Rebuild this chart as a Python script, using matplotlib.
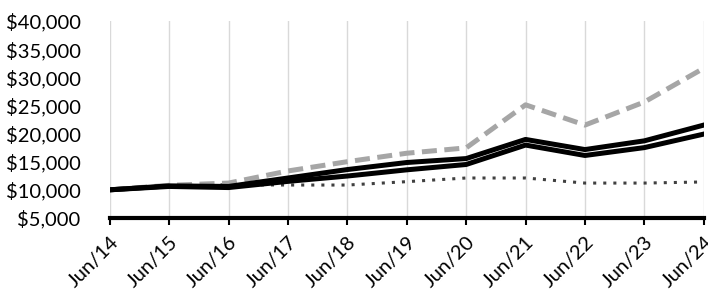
import matplotlib.pyplot as plt
from matplotlib.ticker import FuncFormatter

# Growth of $10,000
labels = ['Jun/14', 'Jun/15', 'Jun/16', 'Jun/17', 'Jun/18', 'Jun/19',
          'Jun/20', 'Jun/21', 'Jun/22', 'Jun/23', 'Jun/24']
fund_a = [10000, 10700, 10600, 12100, 13600, 14850, 15550, 18950, 17150, 18700, 21500]
fund_b = [10000, 10600, 10400, 11500, 12450, 13550, 14500, 17950, 16100, 17500, 19900]
broad_index = [10000, 10800, 11200, 13350, 15000, 16500, 17450, 25100, 21500, 25600, 31600]
bond_index = [10000, 10700, 10900, 10850, 10850, 11450, 12100, 12100, 11200, 11200, 11400]

x = list(range(len(labels)))

plt.rcParams['font.family'] = ['Lato', 'DejaVu Sans']

fig = plt.figure(figsize=(7.08, 2.99), dpi=100)
ax = fig.add_axes([0.155, 0.271, 0.839, 0.659])

ax.plot(x, bond_index, color='#404040', linewidth=2.2, linestyle=(0, (1, 2.3)))
ax.plot(x, broad_index, color='#a6a6a6', linewidth=3.6, linestyle=(0, (3, 1.5)))
ax.plot(x, fund_b, color='black', linewidth=3.6)
ax.plot(x, fund_a, color='black', linewidth=3.6)

ax.set_xlim(0, 10)
ax.set_ylim(5000, 40000)
ax.set_yticks(range(5000, 40001, 5000))
ax.yaxis.set_major_formatter(FuncFormatter(lambda v, p: '${:,.0f}'.format(v)))

ax.set_xticks(x)
ax.set_xticklabels(labels, rotation=45, ha='right', rotation_mode='anchor')
ax.grid(axis='x', color='#d9d9d9', linewidth=1)
ax.set_axisbelow(True)

for s in ['top', 'right', 'left']:
    ax.spines[s].set_visible(False)
ax.spines['bottom'].set_linewidth(3)
ax.tick_params(axis='y', length=0, labelsize=14.5, pad=21)
ax.tick_params(axis='x', length=5, width=1.5, labelsize=14.5, pad=6)

plt.savefig('out.png', dpi=100)
